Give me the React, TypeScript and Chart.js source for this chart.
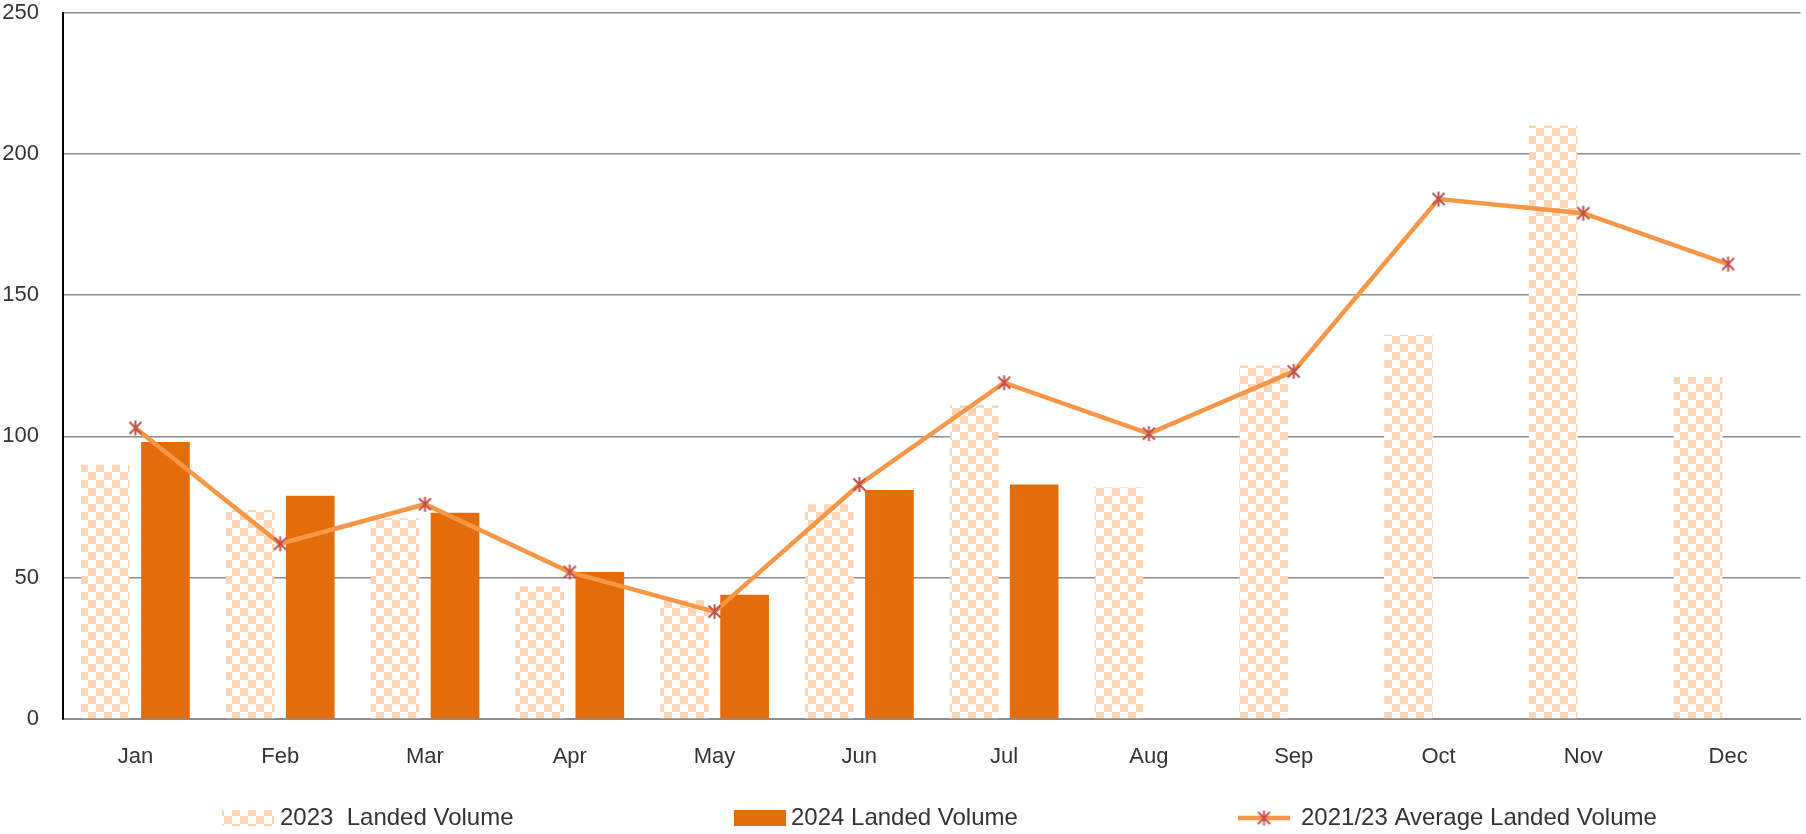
import React, { useEffect, useRef } from 'react';
import { Chart, registerables } from 'chart.js';

Chart.register(...registerables);

const months = ['Jan', 'Feb', 'Mar', 'Apr', 'May', 'Jun', 'Jul', 'Aug', 'Sep', 'Oct', 'Nov', 'Dec'];
const landed2023 = [90, 74, 71, 47, 42, 76, 111, 82, 125, 136, 210, 121];
const landed2024 = [98, 79, 73, 52, 44, 81, 83, null, null, null, null, null];
const avg2123 = [103, 62, 76, 52, 38, 83, 119, 101, 123, 184, 179, 161];
const yMin = 0;
const yMax = 250;
const yStep = 50;
const legendLabels = ['2023  Landed Volume', '2024 Landed Volume', '2021/23 Average Landed Volume'];

const FONT = '"Liberation Sans", Arial, sans-serif';
const C_2023 = '#FCD5B5';
const C_2024 = '#E46C0A';
const C_LINE = '#F79646';
const C_MARK = '#C0504D';
const C_TEXT = '#333333';
const C_GRID = '#8C8C8C';

function makePatternCanvas(): HTMLCanvasElement {
  const c = document.createElement('canvas');
  c.width = 16;
  c.height = 16;
  const g = c.getContext('2d')!;
  g.fillStyle = '#FFFFFF';
  g.fillRect(0, 0, 16, 16);
  g.fillStyle = C_2023;
  g.fillRect(0, 0, 8, 8);
  g.fillRect(8, 8, 8, 8);
  return c;
}

function makeStar(): HTMLCanvasElement {
  const c = document.createElement('canvas');
  c.width = 17;
  c.height = 17;
  const g = c.getContext('2d')!;
  g.strokeStyle = C_MARK;
  g.lineWidth = 2;
  g.lineCap = 'butt';
  g.beginPath();
  g.moveTo(2.5, 2.5);
  g.lineTo(14.5, 14.5);
  g.moveTo(14.5, 2.5);
  g.lineTo(2.5, 14.5);
  g.moveTo(8.5, 1);
  g.lineTo(8.5, 16);
  g.stroke();
  return c;
}

export default function App() {
  const ref = useRef<HTMLCanvasElement>(null);

  useEffect(() => {
    document.body.style.margin = '0';
    const canvas = ref.current!;
    const ctx = canvas.getContext('2d')!;
    const pattern = ctx.createPattern(makePatternCanvas(), 'repeat')!;
    const star = makeStar();

    const legendPlugin = {
      id: 'customLegend',
      afterDraw(chart: any) {
        const g = chart.ctx as CanvasRenderingContext2D;
        const y = 818;
        g.save();
        g.fillStyle = pattern;
        g.fillRect(222, y - 8, 52, 16);
        g.fillStyle = C_2024;
        g.fillRect(734, y - 8, 52, 16);
        g.strokeStyle = C_LINE;
        g.lineWidth = 4.5;
        g.beginPath();
        g.moveTo(1238, y);
        g.lineTo(1290, y);
        g.stroke();
        g.drawImage(star, 1264 - 8.5, y - 8.5);
        g.font = `24px ${FONT}`;
        g.fillStyle = C_TEXT;
        g.textBaseline = 'middle';
        g.textAlign = 'left';
        g.fillText(legendLabels[0], 280, y);
        g.fillText(legendLabels[1], 791, y);
        g.fillText(legendLabels[2], 1301, y);
        g.restore();
      },
    };

    const chart = new Chart(ctx, {
      type: 'bar',
      data: {
        labels: months,
        datasets: [
          {
            type: 'line',
            label: legendLabels[2],
            data: avg2123,
            borderColor: C_LINE,
            backgroundColor: C_LINE,
            borderWidth: 4.5,
            tension: 0,
            pointStyle: star as any,
            pointRadius: 8,
            order: 0,
          } as any,
          {
            type: 'bar',
            label: legendLabels[0],
            data: landed2023,
            backgroundColor: pattern as any,
            categoryPercentage: 0.83,
            barPercentage: 0.81,
            order: 1,
          },
          {
            type: 'bar',
            label: legendLabels[1],
            data: landed2024,
            backgroundColor: C_2024,
            categoryPercentage: 0.83,
            barPercentage: 0.81,
            order: 2,
          },
        ],
      },
      options: {
        animation: false,
        responsive: false,
        devicePixelRatio: 1,
        layout: { padding: { top: 12, bottom: 55, left: 0, right: 0 } },
        plugins: {
          legend: { display: false },
          tooltip: { enabled: false },
          title: { display: false },
        },
        scales: {
          x: {
            grid: { display: false },
            border: { display: true, color: C_GRID, width: 2 },
            ticks: {
              font: { family: FONT, size: 22, lineHeight: 1 },
              color: C_TEXT,
              padding: 19,
              maxRotation: 0,
              autoSkip: false,
            },
            afterFit: (s: any) => {
              s.height = 60;
            },
          },
          y: {
            min: yMin,
            max: yMax,
            ticks: {
              stepSize: yStep,
              font: { family: FONT, size: 22, lineHeight: 1 },
              color: C_TEXT,
              padding: 24,
            },
            grid: { color: C_GRID, lineWidth: 1.5, drawTicks: false },
            border: { display: true, color: '#000000', width: 2 },
            afterFit: (s: any) => {
              s.width = 63;
              s.paddingTop = 0;
              s.paddingBottom = 0;
            },
          },
        },
      },
      plugins: [legendPlugin],
    });

    return () => {
      chart.destroy();
    };
  }, []);

  return (
    <div
      style={{
        position: 'fixed',
        left: 0,
        top: 0,
        width: 1806,
        height: 834,
        overflow: 'hidden',
        background: '#FFFFFF',
      }}
    >
      <canvas ref={ref} width={1813} height={834} style={{ display: 'block' }} />
    </div>
  );
}
